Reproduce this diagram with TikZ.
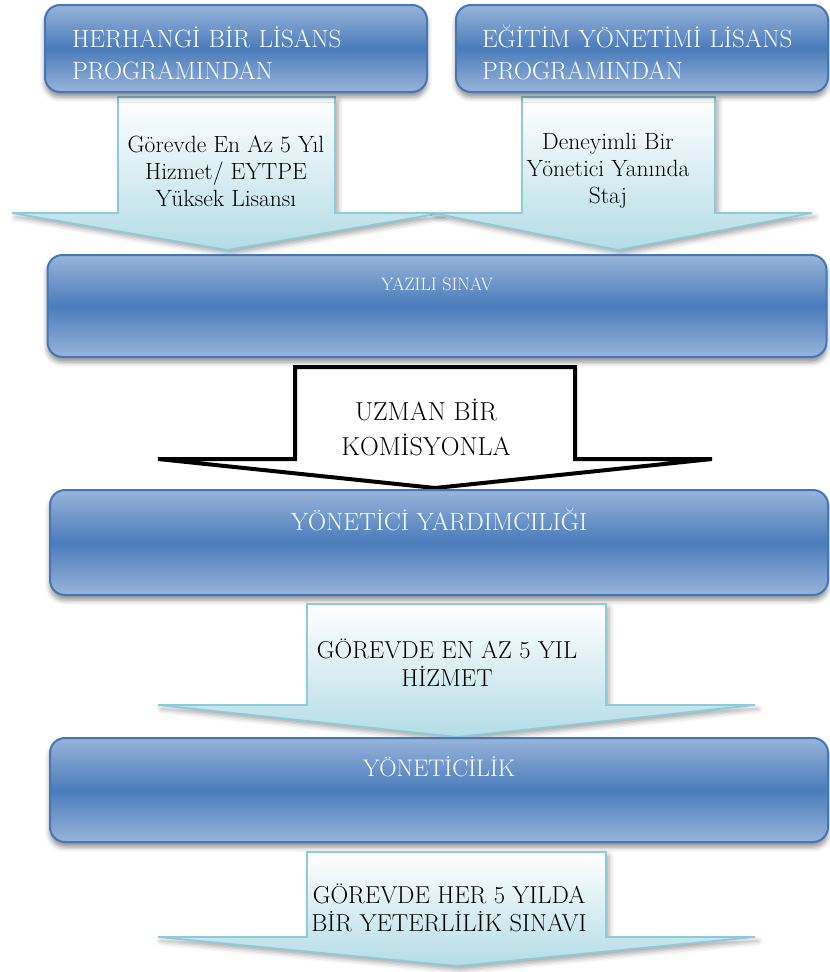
\documentclass[tikz,border=0pt]{standalone}
\usepackage{xcolor}
\usepackage{tikz}
\usetikzlibrary{arrows,shapes,positioning,calc,shadows.blur}

\definecolor{boxlight}{HTML}{98B4DA}
\definecolor{boxdark}{HTML}{4A7CBB}
\definecolor{boxline}{HTML}{4576B5}
\definecolor{arrowlight}{HTML}{B4DCE6}
\definecolor{arrowline}{HTML}{8ECBDA}

\tikzset{
  bluebox/.style = {rectangle, rounded corners = 15pt, draw = boxline, line width = 2pt,
    top color = boxlight, bottom color = boxlight, middle color = boxdark,
    blur shadow = {shadow xshift = 0pt, shadow yshift = -5pt, shadow blur radius = 5pt, shadow opacity = 45},
    inner sep = 0pt},
  boxtitle/.style = {text = white, inner sep = 0pt},
  bigarrow/.style = {draw = arrowline, line width = 1.8pt, line join = miter,
    top color = white, bottom color = arrowlight,
    blur shadow = {shadow xshift = 3pt, shadow yshift = -4pt, shadow blur radius = 5pt, shadow opacity = 35}},
  plainarrow/.style = {draw = black, line width = 4pt, fill = white, line join = miter},
  arrowtext/.style = {align = center, inner sep = 0pt, text = black}
}

\begin{document}
\begin{tikzpicture}[x = 1pt, y = -1pt]
  \useasboundingbox (0,0) rectangle (830,972);

  % arrows from the two programmes
  \path[bigarrow] (118,97) -- (335,97) -- (335,213) -- (442,213) -- (227,250) -- (12,213) -- (118,213) -- cycle;
  \path[bigarrow] (522,97) -- (715,97) -- (715,213) -- (812,213) -- (618,250) -- (433,213) -- (522,213) -- cycle;
  \node[arrowtext, font = \fontsize{23.5}{27}\selectfont] (hizmet) at (226,171) {Görevde En Az 5 Yıl\\Hizmet/ EYTPE\\Yüksek Lisansı};
  \node[arrowtext, font = \fontsize{23.5}{27}\selectfont] (staj) at (608,171) {Deneyimli Bir\\Yönetici Yanında\\Staj};

  % top boxes
  \node[bluebox, minimum width = 382pt, minimum height = 87pt, text width = 328pt, align = left,
    text = white, font = \fontsize{25}{32}\selectfont] (herhangi) at (236,48.5) {\rule{0pt}{30pt}HERHANGİ BİR LİSANS\\PROGRAMINDAN};
  \node[bluebox, minimum width = 372pt, minimum height = 87pt, text width = 320pt, align = left,
    text = white, font = \fontsize{25}{32}\selectfont] (egitim) at (642,48.5) {\rule{0pt}{30pt}EĞİTİM YÖNETİMİ LİSANS\\PROGRAMINDAN};

  % written exam
  \node[bluebox, minimum width = 779pt, minimum height = 102pt] (yazili) at (437,306) {};
  \node[boxtitle, font = \fontsize{18}{20}\selectfont] (yazilitext) at ([yshift = -30pt]yazili.north) {YAZILI SINAV};

  \path[plainarrow] (295,367) -- (575,367) -- (575,459) -- (712,459) -- (435,488) -- (158,459) -- (295,459) -- cycle;
  \node[arrowtext, font = \fontsize{26}{35}\selectfont] (komisyon) at (426,427) {UZMAN BİR\\KOMİSYONLA};

  % assistant manager
  \node[bluebox, minimum width = 778pt, minimum height = 105pt] (yardimci) at (439,542.5) {};
  \node[boxtitle, font = \fontsize{25}{28}\selectfont] (yardimcitext) at ([yshift = -30pt]yardimci.north) {YÖNETİCİ YARDIMCILIĞI};

  \path[bigarrow] (307,604) -- (606,604) -- (606,705) -- (755,705) -- (457,737) -- (158,705) -- (307,705) -- cycle;
  \node[arrowtext, font = \fontsize{24.5}{28}\selectfont] (gorevde) at (447,663) {GÖREVDE EN AZ 5 YIL\\HİZMET};

  % manager
  \node[bluebox, minimum width = 778pt, minimum height = 104pt] (yonetici) at (439,790) {};
  \node[boxtitle, font = \fontsize{24}{28}\selectfont] (yoneticitext) at ([yshift = -30pt]yonetici.north) {YÖNETİCİLİK};

  \path[bigarrow] (307,852) -- (606,852) -- (606,937) -- (755,937) -- (457,966) -- (158,937) -- (307,937) -- cycle;
  \node[arrowtext, font = \fontsize{24.5}{28}\selectfont] (yeterlilik) at (449,908) {GÖREVDE HER 5 YILDA\\BİR YETERLİLİK SINAVI};
\end{tikzpicture}
\end{document}
